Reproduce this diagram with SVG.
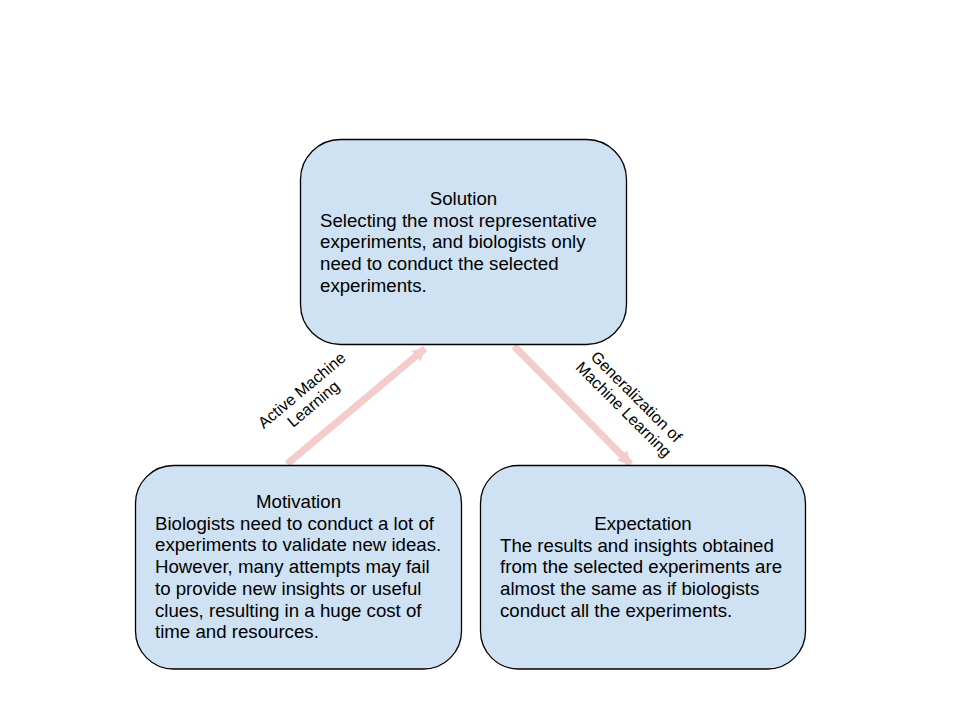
<svg xmlns="http://www.w3.org/2000/svg" width="960" height="720" viewBox="0 0 960 720">
<style>
.box{fill:#cfe2f3;stroke:#000;stroke-width:1.3}
.t{font-family:"Liberation Sans",Arial,sans-serif;font-size:18.67px;fill:#000}
.c{text-anchor:middle}
.lbl{font-family:"Liberation Sans",Arial,sans-serif;font-size:16px;fill:#000;text-anchor:middle}
.conn{stroke:#f4cccc;stroke-width:7;fill:none}
</style>
<defs>
<marker id="ah" markerUnits="userSpaceOnUse" markerWidth="16" markerHeight="16" viewBox="0 0 16 16" refX="12" refY="8" orient="auto">
<path d="M0,1 L13,8 L0,15 Z" fill="#f4cccc"/>
</marker>
</defs>
<rect width="960" height="720" fill="#fff"/>
<g id="connectors">
<line class="conn" x1="287" y1="464" x2="425" y2="348.5" marker-end="url(#ah)"/>
<line class="conn" x1="514" y1="346" x2="630.5" y2="464" marker-end="url(#ah)"/>
<g transform="translate(307.5,397) rotate(-40)">
<text class="lbl" x="0" y="-3.5">Active Machine</text>
<text class="lbl" x="0" y="14.5">Learning</text>
</g>
<g transform="translate(630,403) rotate(45)">
<text class="lbl" x="0" y="-3.5">Generalization of</text>
<text class="lbl" x="0" y="14.5">Machine Learning</text>
</g>
</g>
<g id="solution">
<rect class="box" x="300.5" y="139.5" width="326" height="205" rx="40" ry="40"/>
<text class="t c" x="463.5" y="205">Solution</text>
<text class="t" x="320" y="226.7">Selecting the most representative</text>
<text class="t" x="320" y="248.4">experiments, and biologists only</text>
<text class="t" x="320" y="270.1">need to conduct the selected</text>
<text class="t" x="320" y="291.8">experiments.</text>
</g>
<g id="motivation">
<rect class="box" x="135.5" y="465.5" width="326" height="203.5" rx="38" ry="38"/>
<text class="t c" x="298.5" y="508">Motivation</text>
<text class="t" x="155" y="529.7">Biologists need to conduct a lot of</text>
<text class="t" x="155" y="551.4">experiments to validate new ideas.</text>
<text class="t" x="155" y="573.1">However, many attempts may fail</text>
<text class="t" x="155" y="594.8">to provide new insights or useful</text>
<text class="t" x="155" y="616.5">clues, resulting in a huge cost of</text>
<text class="t" x="155" y="638.2">time and resources.</text>
</g>
<g id="expectation">
<rect class="box" x="480.5" y="465.5" width="325" height="203.5" rx="38" ry="38"/>
<text class="t c" x="643" y="530">Expectation</text>
<text class="t" x="500" y="551.7">The results and insights obtained</text>
<text class="t" x="500" y="573.4">from the selected experiments are</text>
<text class="t" x="500" y="595.1">almost the same as if biologists</text>
<text class="t" x="500" y="616.8">conduct all the experiments.</text>
</g>
</svg>
